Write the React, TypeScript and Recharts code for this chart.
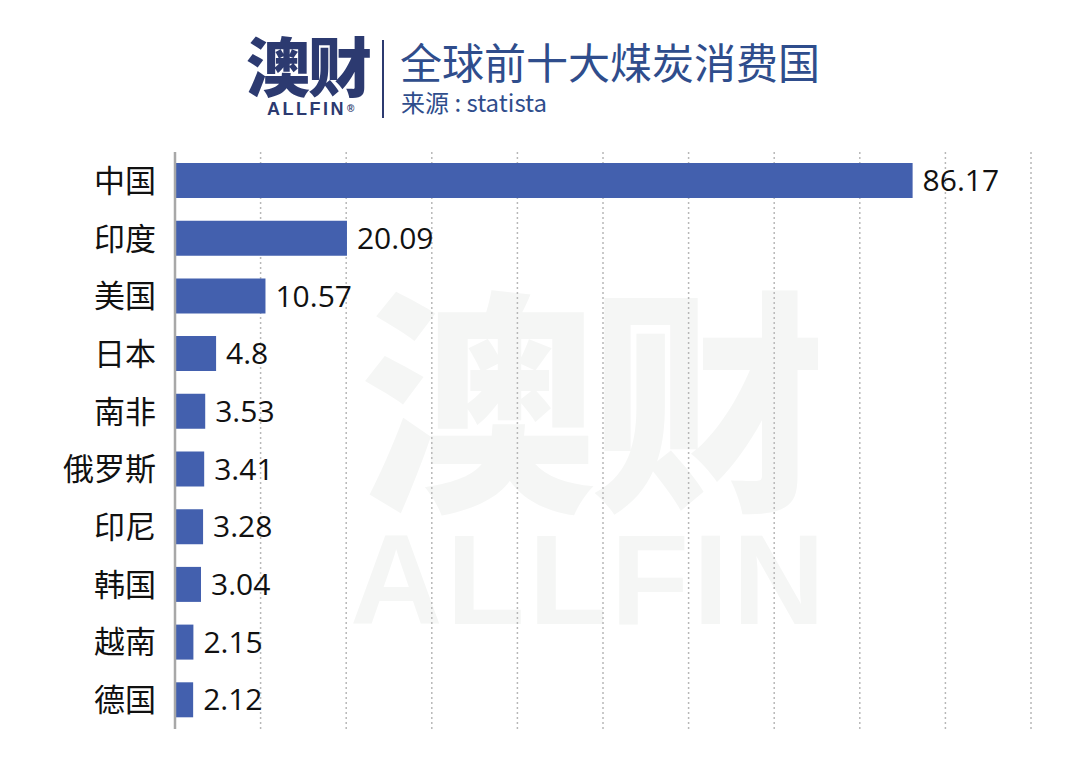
import React from "react";
import { BarChart, Bar, XAxis, YAxis, CartesianGrid, LabelList } from "recharts";

const countries = ["中国", "印度", "美国", "日本", "南非", "俄罗斯", "印尼", "韩国", "越南", "德国"];
const consumption = [86.17, 20.09, 10.57, 4.8, 3.53, 3.41, 3.28, 3.04, 2.15, 2.12];
const xTicks = [0, 10, 20, 30, 40, 50, 60, 70, 80, 90, 100];

const data = countries.map((name, i) => ({ name, value: consumption[i] }));

const CJK = '"Noto Sans CJK SC", "Noto Sans", sans-serif';
const NAVY = "#2c3a70";

export default function App() {
  return (
    <div style={{ position: "absolute", left: 0, top: 0, width: 1080, height: 767, background: "#fff", overflow: "hidden", fontFamily: CJK }}>
      {/* watermark */}
      <div style={{ position: "absolute", left: 350, top: 272, width: 480, textAlign: "center", color: "#f5f6f5", fontWeight: 900, fontSize: 236, lineHeight: "236px", letterSpacing: -6 }}>
        澳财
      </div>
      <div style={{ position: "absolute", left: 350, top: 522, width: 470, textAlign: "center", color: "#f5f6f5", fontWeight: 900, fontSize: 128, lineHeight: "116px", fontFamily: '"Liberation Sans", sans-serif', letterSpacing: 4 }}>
        ALLFIN
      </div>

      {/* header */}
      <div style={{ position: "absolute", left: 246, top: 30, fontSize: 64, fontWeight: 900, color: NAVY, lineHeight: "66px", letterSpacing: -2 }}>
        澳财
      </div>
      <div style={{ position: "absolute", left: 267, top: 99, fontSize: 18, lineHeight: "20px", fontWeight: 900, color: NAVY, fontFamily: '"Liberation Sans", sans-serif', letterSpacing: 2.5, whiteSpace: "nowrap" }}>
        ALLFIN<span style={{ fontSize: 10, verticalAlign: "top", marginLeft: 1 }}>®</span>
      </div>
      <div style={{ position: "absolute", left: 382, top: 40, width: 2, height: 78, background: NAVY }} />
      <div style={{ position: "absolute", left: 400, top: 36, fontSize: 42, color: "#2f4d8c", lineHeight: "50px", whiteSpace: "nowrap" }}>
        全球前十大煤炭消费国
      </div>
      <div style={{ position: "absolute", left: 401, top: 88, fontSize: 24, color: "#2f4d8c", lineHeight: "28px", whiteSpace: "nowrap" }}>
        来源 : statista
      </div>

      <div style={{ position: "absolute", left: 0, top: 0 }}>
        <BarChart
          width={1080}
          height={767}
          data={data}
          layout="vertical"
          margin={{ top: 152, right: 49, bottom: 38, left: 0 }}
          barSize={35}
        >
          <CartesianGrid horizontal={false} stroke="#b8b8b8" strokeDasharray="2 3" strokeWidth={1.5} />
          <XAxis type="number" domain={[0, 100]} ticks={xTicks} hide />
          <YAxis
            type="category"
            dataKey="name"
            width={175}
            axisLine={{ stroke: "#a8a8a8", strokeWidth: 2.5 }}
            tickLine={false}
            tickSize={0}
            tickMargin={19}
            tick={{ fontSize: 31, fill: "#111", fontFamily: CJK }}
          />
          <Bar dataKey="value" fill="#4360ae" isAnimationActive={false}>
            <LabelList
              dataKey="value"
              position="right"
              offset={10}
              style={{ fontSize: 30, fill: "#111", fontFamily: '"Open Sans", "Noto Sans", sans-serif' }}
            />
          </Bar>
        </BarChart>
      </div>
    </div>
  );
}
